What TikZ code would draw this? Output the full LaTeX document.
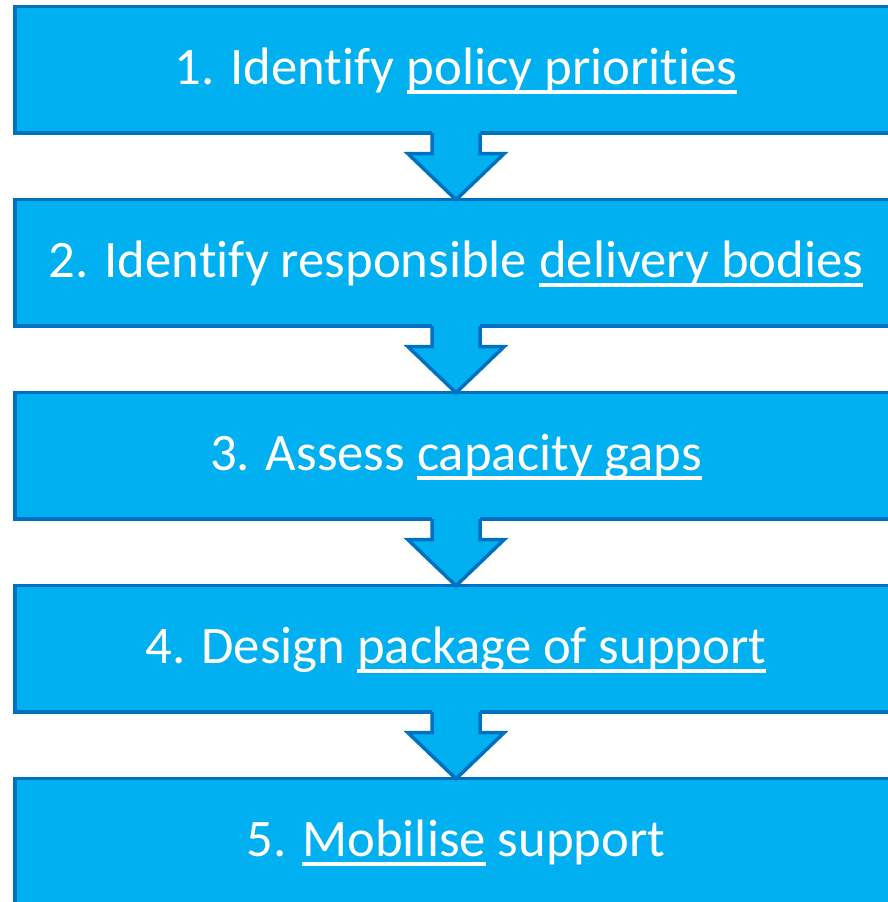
\documentclass[tikz,border=0pt]{standalone}
\usepackage{fontspec}
\setmainfont[Ligatures=NoCommon]{Carlito}
\usetikzlibrary{positioning,calc}
\definecolor{stepblue}{HTML}{00B0F0}
\definecolor{stepedge}{HTML}{0070C0}
\newcommand\undl[1]{\setbox0\hbox{#1}\rlap{\rule[-0.17em]{\wd0}{0.07em}}\box0{}}
\begin{document}
\begin{tikzpicture}[x=1pt,y=1pt]
  \tikzstyle{stepbox}=[rectangle,draw=stepedge,line width=3.5pt,fill=stepblue,text=white,minimum width=882.5pt,minimum height=126.5pt,inner sep=0pt,outer sep=0pt,font=\fontsize{52.7}{60}\selectfont,text height=40pt,text depth=10pt]
  \tikzstyle{flow}=[draw=stepedge,line width=3.5pt,line join=miter]
  \useasboundingbox (0,0) rectangle (888,902);
  \node [stepbox] (s1) at (456,832) {1. Identify \undl{policy priorities}};
  \node [stepbox,below=66.5pt of s1] (s2) {2. Identify responsible \undl{delivery bodies}};
  \node [stepbox,below=66.5pt of s2] (s3) {3. Assess \undl{capacity gaps}};
  \node [stepbox,below=66.5pt of s3] (s4) {4. Design \undl{package of support}};
  \node [stepbox,below=66.5pt of s4] (s5) {5. \undl{Mobilise} support};
  % block arrows between the steps
  \foreach \a/\b in {s1/s2,s2/s3,s3/s4,s4/s5}{
    \fill[stepblue] ($(\a.south)+(-24,2)$) -- ($(\a.south)+(-24,-20.5)$) -- ($(\a.south)+(-48,-20.5)$)
      -- (\b.north) -- ($(\a.south)+(48,-20.5)$) -- ($(\a.south)+(24,-20.5)$) -- ($(\a.south)+(24,2)$) -- cycle;
    \draw[flow] ($(\a.south)+(-24,0)$) -- ($(\a.south)+(-24,-20.5)$) -- ($(\a.south)+(-48,-20.5)$)
      -- (\b.north) -- ($(\a.south)+(48,-20.5)$) -- ($(\a.south)+(24,-20.5)$) -- ($(\a.south)+(24,0)$);
  }
\end{tikzpicture}
\end{document}
